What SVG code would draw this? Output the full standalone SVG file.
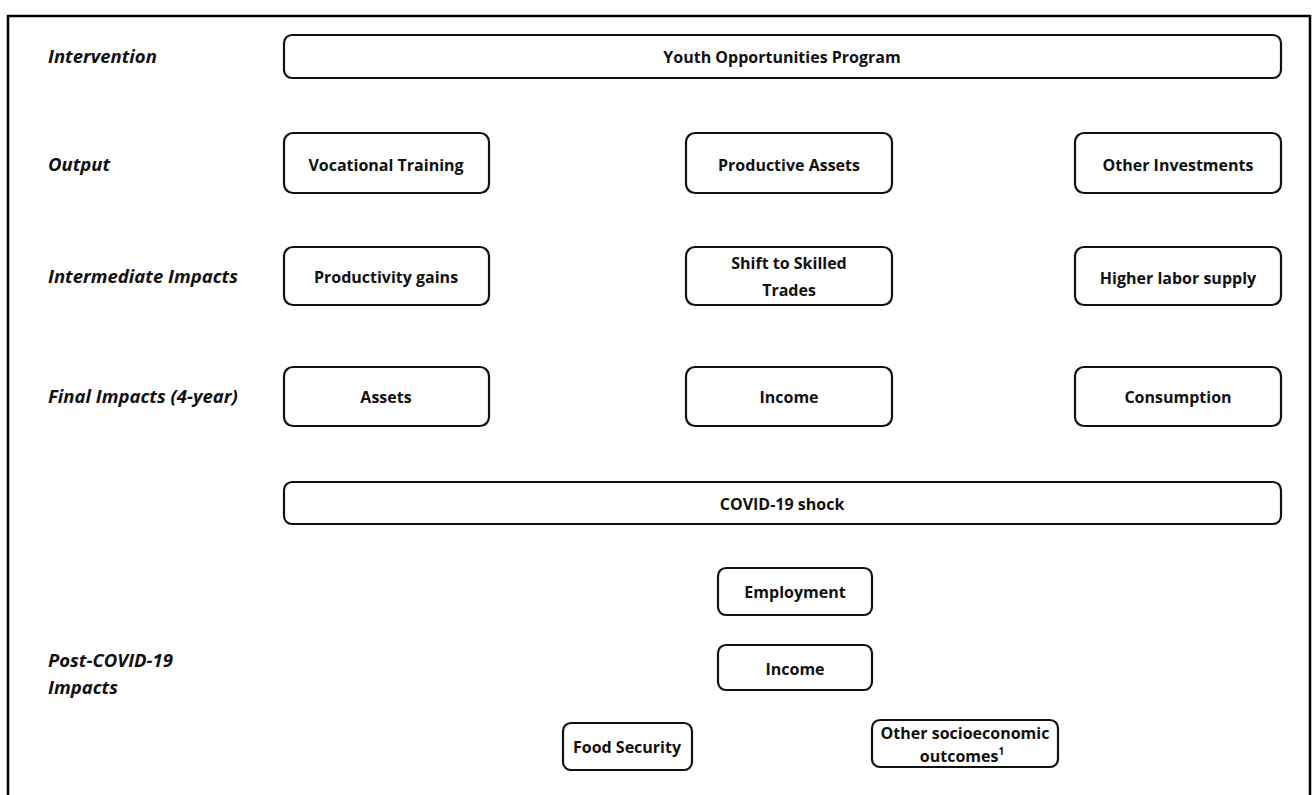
<svg xmlns="http://www.w3.org/2000/svg" width="1312" height="795" viewBox="0 0 1312 795">
<style>
.frame{fill:none;stroke:#000;stroke-width:2.5}
.box{fill:#fff;stroke:#111;stroke-width:2.2}
.lbl{font-family:"Open Sans",Lato,sans-serif;font-weight:bold;font-style:italic;font-size:18.5px;fill:#111}
.t{font-family:"Open Sans",Lato,sans-serif;font-weight:bold;font-size:16px;fill:#111;text-anchor:middle;dominant-baseline:central}
</style>
<rect x="0" y="0" width="1312" height="795" fill="#fff"/>
<rect class="frame" x="8" y="16" width="1302" height="800"/>
<g id="labels">
<text class="lbl" x="48" y="63">Intervention</text>
<text class="lbl" x="48" y="171">Output</text>
<text class="lbl" x="48" y="283">Intermediate Impacts</text>
<text class="lbl" x="48" y="403">Final Impacts (4-year)</text>
<text class="lbl" x="48" y="667">Post-COVID-19</text>
<text class="lbl" x="48" y="694">Impacts</text>
</g>
<g id="connectors"></g>
<g id="n-intervention"><rect class="box" x="284" y="35" width="997" height="43" rx="8"/><text class="t" x="782" y="57">Youth Opportunities Program</text></g>
<g id="n-vocational"><rect class="box" x="284" y="133" width="205" height="60" rx="9"/><text class="t" x="386" y="165">Vocational Training</text></g>
<g id="n-productive"><rect class="box" x="686" y="133" width="206" height="60" rx="9"/><text class="t" x="789" y="165">Productive Assets</text></g>
<g id="n-other-inv"><rect class="box" x="1075" y="133" width="206" height="60" rx="9"/><text class="t" x="1178" y="165">Other Investments</text></g>
<g id="n-productivity"><rect class="box" x="284" y="247" width="205" height="58" rx="9"/><text class="t" x="386" y="277">Productivity gains</text></g>
<g id="n-shift"><rect class="box" x="686" y="247" width="206" height="58" rx="9"/><text class="t" x="789" y="263">Shift to Skilled</text><text class="t" x="789" y="290">Trades</text></g>
<g id="n-labor"><rect class="box" x="1075" y="247" width="206" height="58" rx="9"/><text class="t" x="1178" y="278">Higher labor supply</text></g>
<g id="n-assets"><rect class="box" x="284" y="367" width="205" height="59" rx="9"/><text class="t" x="386" y="397">Assets</text></g>
<g id="n-income"><rect class="box" x="686" y="367" width="206" height="59" rx="9"/><text class="t" x="789" y="397">Income</text></g>
<g id="n-consumption"><rect class="box" x="1075" y="367" width="206" height="59" rx="9"/><text class="t" x="1178" y="397">Consumption</text></g>
<g id="n-covid"><rect class="box" x="284" y="482" width="997" height="42" rx="8"/><text class="t" x="782" y="504">COVID-19 shock</text></g>
<g id="n-employment"><rect class="box" x="718" y="568" width="154" height="47" rx="8"/><text class="t" x="795" y="592">Employment</text></g>
<g id="n-income2"><rect class="box" x="718" y="645" width="154" height="45" rx="8"/><text class="t" x="795" y="669">Income</text></g>
<g id="n-food"><rect class="box" x="563" y="723" width="129" height="47" rx="8"/><text class="t" x="627" y="747">Food Security</text></g>
<g id="n-other-socio"><rect class="box" x="872" y="720" width="186" height="47" rx="8"/><text class="t" x="965" y="733">Other socioeconomic</text><text class="t" x="962" y="756">outcomes<tspan font-size="10" dy="-5">1</tspan></text></g>
</svg>
